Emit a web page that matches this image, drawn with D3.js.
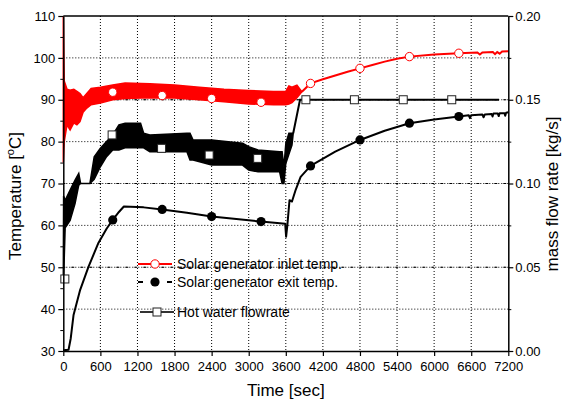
<!DOCTYPE html>
<html>
<head>
<meta charset="utf-8">
<script src="https://cdn.jsdelivr.net/npm/d3@7"></script>
<style>
body { margin: 0; background: #fff; }
text { font-family: Arial, "Liberation Sans", sans-serif; fill: #000; }
</style>
</head>
<body>
<div class="canvas"></div>
<script>
// ---- DATA --- //
const timeTicks = [0, 600, 1200, 1800, 2400, 3000, 3600, 4200, 4800, 5400, 6000, 6600, 7200];
const tempTicks = [30, 40, 50, 60, 70, 80, 90, 100, 110];
const tempMinor = [35, 45, 55, 65, 75, 85, 95, 105];
const flowTicks = [0.00, 0.05, 0.10, 0.15, 0.20];
const flowMinor = [0.025, 0.075, 0.125, 0.175];

// inlet temp, noisy part: [time, low, high]
const inletBand = [
    [0, 75, 110], [15, 80, 94.5], [60, 84, 92.5], [110, 82.8, 92.3], [170, 84.5, 92.5],
    [220, 84, 92], [270, 84.8, 91.5], [320, 87, 90.5], [380, 88, 91.5], [450, 88.8, 92.7],
    [600, 89.2, 93], [800, 90, 93.5], [1000, 90.3, 94], [1400, 90.5, 93.8], [1800, 90.4, 93.5],
    [2200, 90, 93], [2600, 89.5, 92.5], [3000, 89, 92.2], [3400, 88.8, 92], [3600, 88.8, 92],
    [3650, 89, 93.3], [3700, 89.3, 93], [3780, 90.5, 93.5], [3860, 91.9, 91.9]
];
// inlet temp, smooth part: [time, temp]
const inletLine = [
    [3860, 91.9], [4000, 93.9], [4200, 94.9], [4400, 95.8], [4600, 96.7], [4800, 97.5],
    [5000, 98.3], [5200, 99.1], [5400, 99.8], [5600, 100.3], [6000, 100.8], [6400, 101.1],
    [6700, 101.3], [6740, 100.8], [6780, 101.3], [6950, 101.4], [6985, 100.9], [7020, 101.4],
    [7060, 101.0], [7100, 101.5], [7200, 101.6]
];
const inletMarks = [[800, 91.8], [1600, 91.0], [2400, 90.3], [3200, 89.4], [4000, 93.9], [4800, 97.5], [5600, 100.3], [6400, 101.1]];

// exit temp: [time, temp]
const exitLine = [
    [0, 30.2], [85, 30.3], [120, 33], [166, 38.6], [273, 44.6], [407, 50.1], [568, 55.8],
    [700, 59.2], [800, 61.3], [900, 63.2], [980, 64.5], [1300, 64.3], [1600, 63.8], [2000, 63],
    [2400, 62.1], [2800, 61.5], [3200, 60.9], [3590, 60.4], [3605, 57.3], [3625, 60], [3660, 66],
    [3700, 65.7], [3760, 68.5], [3840, 71.6], [4000, 74.2], [4400, 77.6], [4800, 80.4],
    [5200, 82.6], [5600, 84.4], [6000, 85.3], [6400, 86], [6560, 86.3], [6580, 85.6], [6600, 86.3],
    [6780, 86.5], [6800, 85.8], [6820, 86.5], [6930, 86.6], [6945, 86], [6960, 86.7], [7030, 86.7],
    [7045, 86.1], [7060, 86.8], [7140, 86.8], [7150, 86.2], [7165, 86.9], [7200, 87]
];
const exitMarks = [[800, 61.3], [1600, 63.8], [2400, 62.1], [3200, 60.9], [4000, 74.2], [4800, 80.4], [5600, 84.4], [6400, 86]];

// hot water flowrate, noisy part: [time, low, high] in kg/s
const flowBand = [
    [0, 0.043, 0.043], [5, 0.043, 0.0925], [30, 0.0735, 0.09], [110, 0.078, 0.096],
    [190, 0.088, 0.102], [250, 0.099, 0.106], [280, 0.1, 0.1], [430, 0.1, 0.1],
    [500, 0.1025, 0.116], [600, 0.11, 0.121], [700, 0.116, 0.125], [800, 0.12, 0.129],
    [900, 0.12, 0.135], [1000, 0.1213, 0.136], [1250, 0.1213, 0.136], [1300, 0.1213, 0.13],
    [1400, 0.119, 0.129], [2000, 0.119, 0.13], [2050, 0.114, 0.13], [2100, 0.114, 0.126],
    [2400, 0.111, 0.126], [2900, 0.111, 0.124], [3000, 0.108, 0.122], [3150, 0.107, 0.12],
    [3500, 0.107, 0.119], [3540, 0.1, 0.119], [3570, 0.1, 0.11], [3600, 0.112, 0.1238],
    [3650, 0.1175, 0.13], [3700, 0.123, 0.13], [3720, 0.13, 0.13]
];
const flowLine = [[3720, 0.13], [3830, 0.15], [7050, 0.15]];
const flowMarks = [[25, 0.043], [790, 0.129], [1590, 0.121], [2360, 0.117], [3145, 0.115], [3925, 0.15], [4710, 0.15], [5500, 0.15], [6285, 0.15]];

const legendLabels = ['Solar generator inlet temp.', 'Solar generator exit temp.', 'Hot water flowrate'];


// ---- GRAPH CONTAINER SETUP --- //
const margin = { top: 16, right: 54.7, bottom: 50, left: 63.3 };
const graphWidth = 563 - margin.left - margin.right;
const graphHeight = 401 - margin.top - margin.bottom;

const svg = d3.select('.canvas')
    .append('svg')
    .attr('width', 563)
    .attr('height', 401);

const graph = svg.append('g')
    .attr('transform', `translate(${margin.left},${margin.top})`);


// ---- SCALES --- //
const x = d3.scaleLinear().domain([0, 7200]).range([0, graphWidth]);
const yT = d3.scaleLinear().domain([30, 110]).range([graphHeight, 0]);
const yF = d3.scaleLinear().domain([0, 0.2]).range([graphHeight, 0]);


// ---- GRID --- //
const grid = graph.append('g').attr('class', 'grid');
grid.selectAll('.vgrid')
    .data(timeTicks.slice(1, -1))
    .enter().append('line')
    .attr('x1', d => x(d)).attr('x2', d => x(d))
    .attr('y1', 0).attr('y2', graphHeight)
    .attr('stroke', '#000').attr('stroke-width', 1)
    .attr('stroke-dasharray', '1,2');
grid.selectAll('.hgrid')
    .data(tempTicks.slice(1, -1))
    .enter().append('line')
    .attr('x1', 0).attr('x2', graphWidth)
    .attr('y1', d => yT(d)).attr('y2', d => yT(d))
    .attr('stroke', '#000').attr('stroke-width', 1)
    .attr('stroke-dasharray', '1,2');
grid.selectAll('.fgrid')
    .data(flowTicks.slice(1, -1))
    .enter().append('line')
    .attr('x1', 0).attr('x2', graphWidth)
    .attr('y1', d => yF(d)).attr('y2', d => yF(d))
    .attr('stroke', '#000').attr('stroke-width', 1)
    .attr('stroke-dasharray', '3,6')
    .attr('stroke-dashoffset', 1);


// ---- SERIES --- //
const bandT = d3.area().x(d => x(d[0])).y0(d => yT(d[1])).y1(d => yT(d[2]));
const bandF = d3.area().x(d => x(d[0])).y0(d => yF(d[1])).y1(d => yF(d[2]));
const lineT = d3.line().x(d => x(d[0])).y(d => yT(d[1]));
const lineF = d3.line().x(d => x(d[0])).y(d => yF(d[1]));

// flowrate
graph.append('path').datum(flowBand)
    .attr('d', bandF)
    .attr('fill', '#000').attr('stroke', '#000').attr('stroke-width', 1.5);
graph.append('path').datum(flowLine)
    .attr('d', lineF)
    .attr('fill', 'none').attr('stroke', '#000').attr('stroke-width', 2);

// inlet temp
graph.append('path').datum(inletBand)
    .attr('d', bandT)
    .attr('fill', '#ff0000').attr('stroke', '#ff0000').attr('stroke-width', 1.5);
graph.append('path').datum(inletLine)
    .attr('d', lineT)
    .attr('fill', 'none').attr('stroke', '#ff0000').attr('stroke-width', 2);

// exit temp
graph.append('path').datum(exitLine)
    .attr('d', lineT)
    .attr('fill', 'none').attr('stroke', '#000').attr('stroke-width', 2)
    .attr('stroke-linejoin', 'round');

// markers
graph.selectAll('.sq')
    .data(flowMarks)
    .enter().append('rect')
    .attr('x', d => x(d[0]) - 4).attr('y', d => yF(d[1]) - 4)
    .attr('width', 8).attr('height', 8)
    .attr('fill', '#fff').attr('stroke', '#222').attr('stroke-width', 1);
graph.selectAll('.ci')
    .data(inletMarks)
    .enter().append('circle')
    .attr('cx', d => x(d[0])).attr('cy', d => yT(d[1])).attr('r', 4.2)
    .attr('fill', '#fff').attr('stroke', '#ff0000').attr('stroke-width', 1);
graph.selectAll('.ce')
    .data(exitMarks)
    .enter().append('circle')
    .attr('cx', d => x(d[0])).attr('cy', d => yT(d[1])).attr('r', 4.6)
    .attr('fill', '#000');


// ---- AXES --- //
const styleAxis = g => {
    g.select('.domain').attr('stroke-width', 1.5);
    g.selectAll('.tick line').attr('stroke-width', 1.2);
    g.selectAll('text').attr('font-size', 13).attr('font-family', 'Arial, "Liberation Sans", sans-serif');
};

const xAxisGroup = graph.append('g')
    .attr('transform', `translate(0, ${graphHeight})`)
    .call(d3.axisBottom(x).tickValues(timeTicks).tickFormat(d3.format('d')).tickSize(5).tickSizeOuter(0).tickPadding(6))
    .call(styleAxis);

const tAxisGroup = graph.append('g')
    .call(d3.axisLeft(yT).tickValues(tempTicks).tickSize(5).tickSizeOuter(0).tickPadding(3))
    .call(styleAxis);
graph.append('g')
    .call(d3.axisLeft(yT).tickValues(tempMinor).tickSize(3).tickFormat(''))
    .call(g => g.select('.domain').remove());

const fAxisGroup = graph.append('g')
    .attr('transform', `translate(${graphWidth}, 0)`)
    .call(d3.axisRight(yF).tickValues(flowTicks).tickFormat(d3.format('.2f')).tickSize(5).tickSizeOuter(0).tickPadding(2))
    .call(styleAxis);
graph.append('g')
    .attr('transform', `translate(${graphWidth}, 0)`)
    .call(d3.axisRight(yF).tickValues(flowMinor).tickSize(3).tickFormat(''))
    .call(g => g.select('.domain').remove());

// top frame
graph.append('line')
    .attr('x1', 0).attr('x2', graphWidth).attr('y1', 0).attr('y2', 0)
    .attr('stroke', '#000').attr('stroke-width', 1.5);


// ---- TITLES --- //
svg.append('text')
    .attr('x', margin.left + graphWidth / 2)
    .attr('y', 396)
    .attr('text-anchor', 'middle')
    .attr('font-size', 17)
    .text('Time [sec]');

const tTitle = svg.append('text')
    .attr('transform', 'translate(21, 196) rotate(-90)')
    .attr('text-anchor', 'middle')
    .attr('font-size', 17);
tTitle.append('tspan').text('Temperature [');
tTitle.append('tspan').attr('font-size', 11).attr('dy', -7).text('o');
tTitle.append('tspan').attr('dy', 7).text('C]');

svg.append('text')
    .attr('transform', 'translate(558, 194) rotate(-90)')
    .attr('text-anchor', 'middle')
    .attr('font-size', 17)
    .text('mass flow rate [kg/s]');


// ---- LEGEND --- //
const legend = svg.append('g').attr('class', 'legend');
const rowY = [264, 282, 312];

legend.append('line')
    .attr('x1', 138).attr('x2', 172).attr('y1', rowY[0]).attr('y2', rowY[0])
    .attr('stroke', '#ff0000').attr('stroke-width', 2);
legend.append('circle')
    .attr('cx', 155).attr('cy', rowY[0]).attr('r', 4.2)
    .attr('fill', '#fff').attr('stroke', '#ff0000').attr('stroke-width', 1);

legend.append('line')
    .attr('x1', 138).attr('x2', 172).attr('y1', rowY[1]).attr('y2', rowY[1])
    .attr('stroke', '#000').attr('stroke-width', 2)
    .attr('stroke-dasharray', '5,24');
legend.append('circle')
    .attr('cx', 155).attr('cy', rowY[1]).attr('r', 4.6)
    .attr('fill', '#000');

legend.append('line')
    .attr('x1', 140).attr('x2', 174).attr('y1', rowY[2]).attr('y2', rowY[2])
    .attr('stroke', '#333').attr('stroke-width', 2);
legend.append('rect')
    .attr('x', 153).attr('y', rowY[2] - 4).attr('width', 8).attr('height', 8)
    .attr('fill', '#fff').attr('stroke', '#222').attr('stroke-width', 1);

legend.selectAll('.lt')
    .data(legendLabels)
    .enter().append('text')
    .attr('x', 177)
    .attr('y', (d, i) => rowY[i] + 5)
    .attr('font-size', 14)
    .text(d => d);
</script>
</body>
</html>
